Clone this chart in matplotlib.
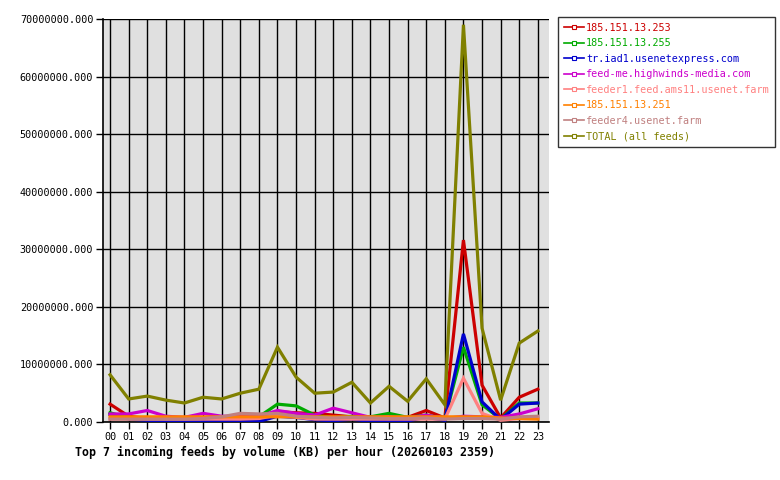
import matplotlib
matplotlib.use("Agg")
import matplotlib.pyplot as plt
from matplotlib.lines import Line2D
from matplotlib.ticker import FuncFormatter, MultipleLocator

hours = ["00", "01", "02", "03", "04", "05", "06", "07", "08", "09", "10", "11",
         "12", "13", "14", "15", "16", "17", "18", "19", "20", "21", "22", "23"]

names = ["185.151.13.253", "185.151.13.255", "tr.iad1.usenetexpress.com",
         "feed-me.highwinds-media.com", "feeder1.feed.ams11.usenet.farm",
         "185.151.13.251", "feeder4.usenet.farm", "TOTAL (all feeds)"]
colors = ["#cc0000", "#00aa00", "#0000cc", "#cc00cc", "#ff8080",
          "#ff8000", "#c08080", "#808000"]

# values in KB (millions)
s253 = [3.1, 1.0, 0.6, 0.5, 0.5, 0.5, 0.6, 0.7, 0.8, 1.8, 1.6, 1.5,
        1.2, 0.9, 0.6, 0.8, 0.8, 2.0, 0.7, 31.6, 6.4, 0.7, 4.3, 5.7]
s255 = [1.6, 0.7, 0.5, 0.5, 0.4, 0.5, 0.6, 0.7, 0.9, 3.1, 2.8, 1.2,
        0.7, 1.0, 0.9, 1.5, 0.8, 1.2, 0.6, 13.0, 3.0, 0.5, 3.3, 3.3]
siad = [1.3, 0.5, 0.3, 0.1, 0.1, 0.2, 0.1, 0.1, 0.1, 1.0, 0.8, 0.4,
        0.2, 0.5, 0.1, 0.2, 0.2, 0.8, 0.3, 15.3, 3.5, 0.4, 3.1, 3.3]
shw = [1.4, 1.4, 2.0, 1.0, 0.8, 1.5, 1.0, 1.0, 1.0, 2.0, 1.5, 1.2,
       2.4, 1.6, 0.8, 0.9, 0.7, 1.2, 0.6, 1.0, 0.9, 0.8, 1.4, 2.3]
sams = [0.5, 0.5, 0.5, 0.5, 0.5, 0.5, 0.5, 0.5, 0.6, 1.2, 0.8, 0.5,
        0.5, 0.5, 0.5, 0.5, 0.5, 0.5, 0.5, 7.6, 1.5, 0.3, 0.6, 0.6]
s251 = [0.9, 0.9, 0.9, 0.9, 0.9, 0.9, 0.9, 0.9, 0.9, 0.9, 0.9, 0.9,
        0.9, 0.9, 0.9, 0.9, 0.9, 0.9, 0.9, 0.9, 0.9, 0.7, 0.6, 0.5]
sfd4 = [0.5, 0.5, 0.5, 0.5, 0.5, 0.6, 0.9, 1.5, 1.4, 1.5, 1.0, 0.8,
        0.7, 0.8, 0.7, 0.6, 0.6, 0.7, 0.5, 0.6, 0.6, 0.5, 0.9, 1.0]
total = [8.2, 4.0, 4.5, 3.8, 3.3, 4.3, 4.0, 5.0, 5.7, 13.0, 7.8, 5.0,
         5.2, 6.9, 3.3, 6.2, 3.6, 7.5, 3.0, 69.0, 16.3, 3.8, 13.7, 15.8]

series = [s253, s255, siad, shw, sams, s251, sfd4, total]

plt.rcParams['font.family'] = ['DejaVu Sans Mono']

fig = plt.figure(figsize=(7.8, 4.8), dpi=100)
ax = fig.add_axes([103/780, 58/480, 446/780, 403/480])
ax.set_facecolor("#e0e0e0")

x = list(range(len(hours)))
for vals, c in zip(series, colors):
    ax.plot(x, [v * 1e6 for v in vals], color=c, linewidth=2.3,
            solid_joinstyle='miter', zorder=3)

ax.set_xlim(-0.38, 23.6)
ax.set_ylim(0, 70e6)
ax.set_xticks(x)
ax.set_xticklabels(hours)
ax.yaxis.set_major_locator(MultipleLocator(10e6))
ax.yaxis.set_major_formatter(FuncFormatter(lambda v, p: "%.3f" % v))
ax.grid(True, color="black", linewidth=1.0, zorder=1)
ax.set_axisbelow(True)
for sp in ax.spines.values():
    sp.set_visible(False)
ax.spines['left'].set_visible(True)
ax.spines['bottom'].set_visible(True)
ax.spines['left'].set_linewidth(1.2)
ax.spines['bottom'].set_linewidth(1.2)
ax.tick_params(axis='both', labelsize=7.3, length=5, width=1, color='black', pad=2)

handles = [Line2D([0], [0], color=c, linewidth=1.2, marker='s', markersize=3,
                  markerfacecolor='white', markeredgecolor=c, markeredgewidth=0.8)
           for c in colors]
leg = fig.legend(handles, names, loc='upper left', bbox_to_anchor=(558/780, 1 - 17/480),
                 fontsize=7.3, frameon=True, fancybox=False, edgecolor='black',
                 handlelength=2.0, handletextpad=0.2, labelspacing=0.55,
                 borderpad=0.55, borderaxespad=0)
leg.get_frame().set_linewidth(1.0)
for t, c in zip(leg.get_texts(), colors):
    t.set_color(c)

fig.text(75/780, 1 - 452/480, "Top 7 incoming feeds by volume (KB) per hour (20260103 2359)",
         fontsize=8.4, fontweight='bold', ha='left', va='center')

fig.savefig("out.png", dpi=100, facecolor='white')
